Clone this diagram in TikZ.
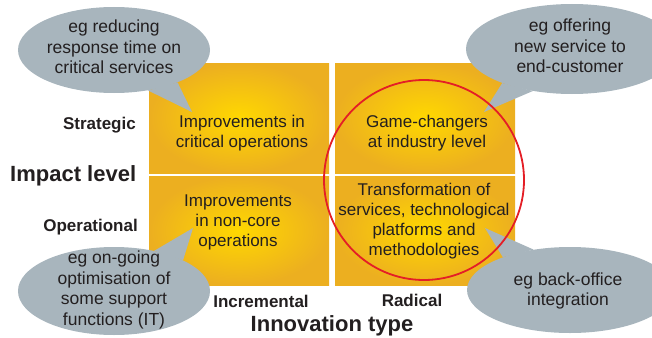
\documentclass[tikz,border=0pt]{standalone}
\usepackage{fontspec}
\setmainfont{Liberation Sans}
\usetikzlibrary{shapes.geometric}
\definecolor{boxyellow}{RGB}{255,216,0}
\definecolor{boxorange}{RGB}{236,175,32}
\definecolor{bubblegrey}{RGB}{168,181,189}
\definecolor{textgrey}{RGB}{35,31,32}
\definecolor{ringred}{RGB}{228,30,38}
\tikzset{
  quad/.style = {rectangle, minimum width = 180pt, minimum height = 110pt, inner sep = 0pt, inner color = boxyellow, outer color = boxorange},
  quadtext/.style = {align = center, text = textgrey, font = \fontsize{17}{20}\selectfont, inner sep = 0pt},
  bubble/.style = {ellipse, fill = bubblegrey, inner sep = 0pt},
  bubbletext/.style = {align = center, text = textgrey, font = \fontsize{17.5}{20.5}\selectfont, inner sep = 0pt},
  axislabel/.style = {text = textgrey, font = \fontsize{17}{20}\selectfont\bfseries, inner sep = 0pt},
  axistitle/.style = {text = textgrey, font = \fontsize{22}{26}\selectfont\bfseries, inner sep = 0pt},
}

\begin{document}
\begin{tikzpicture}[x = 1pt, y = -1pt]
\clip (0, 0) rectangle (652, 337);
% quadrants
\node[quad] (ul) at (239, 118) {};
\node[quad] (ur) at (425, 118) {};
\node[quad, minimum height = 109pt] (ll) at (239, 230.5) {};
\node[quad, minimum height = 109pt] (lr) at (425, 230.5) {};
\node[quadtext] (ultext) at (242, 133) {Improvements in\\critical operations};
\node[quadtext] (urtext) at (427, 133) {Game-changers\\at industry level};
\node[quadtext] (lltext) at (238, 222) {Improvements\\in non-core\\operations};
\node[quadtext] (lrtext) at (424, 221) {Transformation of\\services, technological\\platforms and\\methodologies};
% axes
\node[axislabel, anchor = base east] (strategic) at (136, 129) {Strategic};
\node[axislabel, anchor = base east] (operational) at (138, 231) {Operational};
\node[axistitle, anchor = base west] (impact) at (10, 181) {Impact level};
\node[axislabel, anchor = base] (incremental) at (261, 307) {Incremental};
\node[axislabel, anchor = base] (radical) at (412, 306) {Radical};
\node[axistitle, anchor = base] (innovation) at (332, 331) {Innovation type};
% bubbles
\coordinate (t1) at (192, 112);
\coordinate (t2) at (484, 112);
\coordinate (t3) at (193, 228);
\coordinate (t4) at (485, 228);
\node[bubble, minimum width = 192pt, minimum height = 86pt] (b1) at (114, 50) {};
\node[bubble, minimum width = 212pt, minimum height = 90pt] (b2) at (572, 49) {};
\node[bubble, minimum width = 192pt, minimum height = 88pt] (b3) at (114, 291) {};
\node[bubble, minimum width = 206pt, minimum height = 86pt] (b4) at (570, 290) {};
\fill[bubblegrey] (b1.-50) -- (t1) -- (b1.-27) -- cycle;
\fill[bubblegrey] (b2.-154) -- (t2) -- (b2.-133) -- cycle;
\fill[bubblegrey] (b3.45) -- (t3) -- (b3.24) -- cycle;
\fill[bubblegrey] (b4.132) -- (t4) -- (b4.154) -- cycle;
\node[bubbletext] (b1text) at (114, 47) {eg reducing\\response time on\\critical services};
\node[bubbletext] (b2text) at (570, 46) {eg offering\\new service to\\end-customer};
\node[bubbletext] (b3text) at (114, 290) {eg on-going\\optimisation of\\some support\\functions (IT)};
\node[bubbletext] (b4text) at (568, 291) {eg back-office\\integration};
% radical ring
\node[circle, draw = ringred, line width = 1.8pt, minimum size = 200pt, inner sep = 0pt] (ring) at (424, 180) {};
\end{tikzpicture}
\end{document}
